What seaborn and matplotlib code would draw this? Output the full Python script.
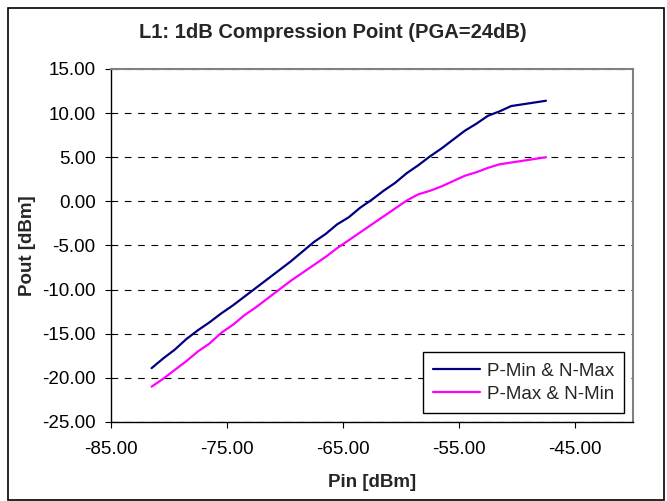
import matplotlib.pyplot as plt
import seaborn as sns
import pandas as pd
from matplotlib.patches import Rectangle
from matplotlib.ticker import FormatStrFormatter


# input power sweep [dBm]
pin = [-81.5, -80.5, -79.5, -78.5, -77.5, -76.5, -75.5, -74.5, -73.5, -72.5,
       -71.5, -70.5, -69.5, -68.5, -67.5, -66.5, -65.5, -64.5, -63.5, -62.5,
       -61.5, -60.5, -59.5, -58.5, -57.5, -56.5, -55.5, -54.5, -53.5, -52.5,
       -51.5, -50.5, -49.5, -48.5, -47.5]

# output power [dBm] for each corner
pout_pmin_nmax = [-18.9, -17.8, -16.8, -15.6, -14.6, -13.7, -12.7, -11.8, -10.8, -9.8,
                  -8.8, -7.8, -6.8, -5.7, -4.6, -3.7, -2.6, -1.8, -0.7, 0.2,
                  1.2, 2.1, 3.2, 4.1, 5.1, 6.0, 7.0, 8.0, 8.8, 9.7,
                  10.2, 10.8, 11.0, 11.2, 11.4]
pout_pmax_nmin = [-21.0, -20.1, -19.1, -18.1, -17.0, -16.1, -14.9, -14.0, -12.9, -12.0,
                  -11.0, -10.0, -9.0, -8.1, -7.2, -6.3, -5.3, -4.4, -3.5, -2.6,
                  -1.7, -0.8, 0.1, 0.8, 1.2, 1.7, 2.3, 2.9, 3.3, 3.8,
                  4.2, 4.4, 4.6, 4.8, 5.0]

series_names = ["P-Min & N-Max", "P-Max & N-Min"]
series_colors = {
    "P-Min & N-Max": "#000080",  # navy
    "P-Max & N-Min": "#FF00FF",  # magenta
}

x_ticks = [-85, -75, -65, -55, -45]
y_ticks = [-25, -20, -15, -10, -5, 0, 5, 10, 15]

df = pd.DataFrame({
    "Pin": pin + pin,
    "Pout": pout_pmin_nmax + pout_pmax_nmin,
    "series": [series_names[0]] * len(pin) + [series_names[1]] * len(pin),
})

sns.set_style("white")
plt.rcParams["font.family"] = ["Liberation Sans", "DejaVu Sans"]

fig, ax = plt.subplots(figsize=(6.67, 5.01), dpi=100)
fig.subplots_adjust(left=0.1664, right=0.949, bottom=0.1577, top=0.8623)

sns.lineplot(data=df, x="Pin", y="Pout", hue="series", palette=series_colors,
             linewidth=1.6, sort=False, ax=ax)

ax.set_xlim(-85, -40)
ax.set_ylim(-25, 15)
ax.set_xticks(x_ticks)
ax.set_yticks(y_ticks)
ax.xaxis.set_major_formatter(FormatStrFormatter("%.2f"))
ax.yaxis.set_major_formatter(FormatStrFormatter("%.2f"))

# dashed horizontal gridlines, Excel style
ax.yaxis.grid(True, color="black", linestyle=(0, (6, 6)), linewidth=0.8)
ax.xaxis.grid(False)
ax.set_axisbelow(True)

for side in ["top", "right"]:
    ax.spines[side].set_color("#808080")
    ax.spines[side].set_linewidth(1.5)
for side in ["left", "bottom"]:
    ax.spines[side].set_color("black")
    ax.spines[side].set_linewidth(1.0)

ax.tick_params(axis="both", direction="out", length=4, width=0.8, color="black",
               labelsize=13.5, labelcolor="black")
ax.tick_params(axis="x", pad=10, bottom=True)
ax.tick_params(axis="y", pad=7, left=True)

ax.set_xlabel("Pin [dBm]", fontsize=13.5, fontweight="bold")
ax.set_ylabel("Pout [dBm]", fontsize=13.5, fontweight="bold")
ax.xaxis.set_label_coords(0.5, -(483 - 422) / 353)
ax.xaxis.label.set_va("center")
ax.yaxis.set_label_coords(-(111 - 28) / 522, 0.5)
ax.yaxis.label.set_va("center")

fig.text(333 / 667, 1 - 33 / 501, "L1: 1dB Compression Point (PGA=24dB)",
         ha="center", va="center", fontsize=14.5, fontweight="bold")

leg = ax.legend(loc="lower right", bbox_to_anchor=(0.983, 0.0255), frameon=True,
                fancybox=False, edgecolor="black", framealpha=1, fontsize=13.5,
                handlelength=2.5, handletextpad=0.35, borderpad=0.55,
                labelspacing=0.3, borderaxespad=0)
leg.get_frame().set_linewidth(1.0)

# outer chart border
fig.patches.append(Rectangle((8 / 667, 1.5 / 501), 656 / 667, 491.5 / 501,
                             transform=fig.transFigure, fill=False,
                             edgecolor="black", linewidth=1.2))

fig.savefig("out.png", dpi=100)
